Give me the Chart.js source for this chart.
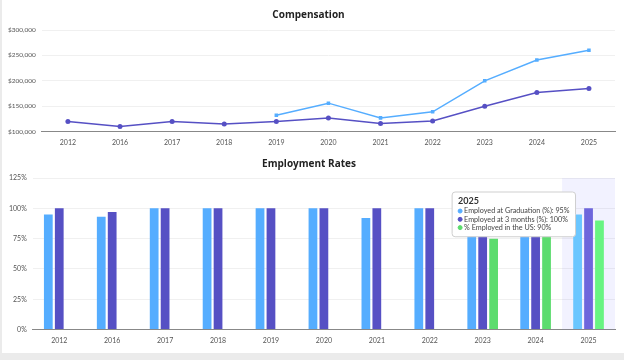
<!DOCTYPE html>
<html>
<head>
<meta charset="utf-8">
<script src="https://cdn.jsdelivr.net/npm/chart.js@4.4.1/dist/chart.umd.min.js"></script>
<style>
  html, body { margin: 0; padding: 0; background: #ebebeb; }
  .card { position: absolute; left: 2px; top: 0; width: 622px; height: 353px; background: #fff; }
  .box1 { position: absolute; left: 0; top: 0; width: 622px; height: 154px; }
  .box2 { position: absolute; left: 0; top: 152px; width: 622px; height: 200px; }
</style>
</head>
<body>
<div class="card">
  <div class="box1"><canvas id="compChart"></canvas></div>
  <div class="box2"><canvas id="empChart"></canvas></div>
</div>
<script>
  const years = ["2012", "2016", "2017", "2018", "2019", "2020", "2021", "2022", "2023", "2024", "2025"];

  // compensation ($)
  const compTop = [null, null, null, null, 132000, 156000, 127000, 139000, 200000, 241000, 260000];
  const compMedian = [120000, 110000, 120000, 115000, 120000, 127000, 116000, 121000, 150000, 177000, 185000];

  // employment rates (%)
  const empGrad = [95, 93, 100, 100, 100, 100, 92, 100, 100, 100, 95];
  const emp3m = [100, 97, 100, 100, 100, 100, 100, 100, 100, 100, 100];
  const empUS = [null, null, null, null, null, null, null, null, 75, 80, 90];

  const BLUE = '#55adff';
  const PURPLE = '#5650c4';
  const GREEN = '#5cdc6e';
  const FONT = "'Open Sans', 'Noto Sans', sans-serif";
  const SMALL = "Lato, 'Open Sans', sans-serif";

  Chart.defaults.font.family = FONT;
  Chart.defaults.color = '#555';
  Chart.defaults.animation = false;

  const tickFont = { size: 7, family: SMALL };

  // light band behind the hovered category
  const hoverBand = {
    id: 'hoverBand',
    beforeDatasetsDraw(chart) {
      const act = chart.getActiveElements();
      if (!act.length) return;
      const x = chart.scales.x;
      const w = x.width / x.ticks.length;
      const cx = x.getPixelForValue(act[0].index);
      const a = chart.chartArea;
      const c = chart.ctx;
      c.save();
      c.fillStyle = 'rgba(110, 110, 255, 0.09)';
      c.fillRect(cx - w / 2, a.top, w, a.bottom - a.top);
      c.restore();
    }
  };

  new Chart(document.getElementById('compChart'), {
    type: 'line',
    data: {
      labels: years,
      datasets: [{
        label: 'Top Compensation',
        data: compTop,
        borderColor: BLUE,
        backgroundColor: BLUE,
        pointStyle: 'rect',
        pointRadius: 2.5,
        pointBorderWidth: 0,
        borderWidth: 1.5
      }, {
        label: 'Median Compensation',
        data: compMedian,
        borderColor: PURPLE,
        backgroundColor: PURPLE,
        pointRadius: 2.5,
        pointBorderWidth: 0,
        borderWidth: 1.5
      }]
    },
    options: {
      responsive: true,
      maintainAspectRatio: false,
      layout: { padding: { left: 0, right: 9, top: 2 } },
      plugins: {
        legend: { display: false },
        tooltip: { enabled: false },
        title: {
          display: true,
          text: 'Compensation',
          color: '#222',
          font: { size: 10, weight: 'bold' },
          padding: { top: 7, bottom: 9 }
        }
      },
      scales: {
        x: {
          offset: true,
          grid: { display: false, drawTicks: false },
          border: { color: '#888' },
          ticks: { font: tickFont, padding: 7, maxRotation: 0 }
        },
        y: {
          min: 100000,
          max: 300000,
          ticks: {
            stepSize: 50000,
            font: { size: 6.5, family: SMALL },
            padding: 6,
            callback: v => '$' + v.toLocaleString('en-US')
          },
          grid: { color: '#f0f0f0', drawTicks: false },
          border: { display: false }
        }
      }
    }
  });

  const empChart = new Chart(document.getElementById('empChart'), {
    type: 'bar',
    data: {
      labels: years,
      datasets: [{
        label: 'Employed at Graduation (%)',
        data: empGrad,
        backgroundColor: BLUE,
        hoverBackgroundColor: '#6ac6ff'
      }, {
        label: 'Employed at 3 months (%)',
        data: emp3m,
        backgroundColor: PURPLE,
        hoverBackgroundColor: '#6e66dc'
      }, {
        label: '% Employed in the US',
        data: empUS,
        backgroundColor: GREEN,
        hoverBackgroundColor: '#68f482'
      }]
    },
    options: {
      responsive: true,
      maintainAspectRatio: false,
      layout: { padding: { left: 1, right: 9, top: 0 } },
      datasets: { bar: { categoryPercentage: 0.62, barPercentage: 0.8 } },
      plugins: {
        legend: { display: false },
        title: {
          display: true,
          text: 'Employment Rates',
          color: '#222',
          font: { size: 10, weight: 'bold' },
          padding: { top: 6, bottom: 8 }
        },
        tooltip: {
          backgroundColor: '#fff',
          titleColor: '#333',
          bodyColor: '#444',
          borderColor: '#cfcfcf',
          borderWidth: 1,
          cornerRadius: 3,
          padding: { left: 6, right: 6, top: 4, bottom: 5 },
          caretSize: 0,
          caretPadding: 13,
          titleFont: { size: 9, weight: 'bold', family: SMALL, lineHeight: 1.1 },
          bodyFont: { size: 7.2, family: SMALL, lineHeight: 1.15 },
          titleMarginBottom: 1,
          bodySpacing: 0,
          usePointStyle: true,
          boxWidth: 4,
          boxHeight: 4,
          callbacks: {
            label: c => c.dataset.label + ': ' + c.raw + '%',
            labelColor: c => ({ borderColor: c.dataset.backgroundColor, backgroundColor: c.dataset.backgroundColor })
          }
        }
      },
      scales: {
        x: {
          grid: { display: false, drawTicks: false },
          border: { color: '#888' },
          ticks: { font: tickFont, padding: 7, maxRotation: 0 }
        },
        y: {
          min: 0,
          max: 125,
          ticks: {
            stepSize: 25,
            font: tickFont,
            padding: 6,
            callback: v => v + '%'
          },
          grid: { color: '#f0f0f0', drawTicks: false },
          border: { display: false }
        }
      }
    },
    plugins: [hoverBand]
  });

  // show the hovered state for the last year
  const last = years.length - 1;
  const active = [0, 1, 2].map(i => ({ datasetIndex: i, index: last }));
  empChart.setActiveElements(active);
  empChart.tooltip.setActiveElements(active, { x: 589, y: 60 });
  empChart.update();
</script>
</body>
</html>
